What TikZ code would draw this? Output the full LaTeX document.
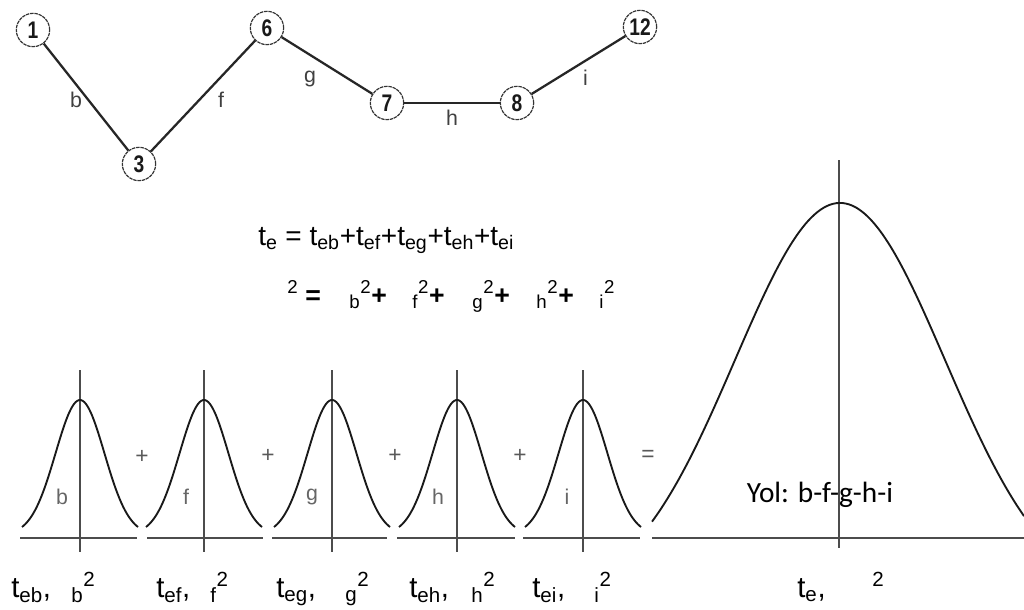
\documentclass[tikz,border=0pt]{standalone}
\usepackage{fontspec}
\setmainfont{Liberation Sans}
\newfontfamily\numfont[FakeStretch=0.8]{Liberation Sans}
\newfontfamily\calfont{Carlito}
\begin{document}
\begin{tikzpicture}[x=0.75pt,y=-0.75pt,
  vtx/.style={circle, draw=black!80, line width=0.9pt, dash pattern=on 2.6pt off 0.6pt,
    minimum size=25pt, inner sep=0pt, font=\numfont\bfseries\fontsize{18}{18}\selectfont, text=black!90},
  edgeline/.style={draw=black!85, line width=1.7pt},
  elab/.style={font=\fontsize{16}{16}\selectfont, text=black!75, inner sep=0pt},
  bell/.style={line width=1.4pt, black!90},
  axisline/.style={line width=0.8pt, black!70},
  clab/.style={font=\fontsize{16}{16}\selectfont, text=black!60, inner sep=0pt},
  op/.style={font=\fontsize{17}{17}\selectfont, text=black!65, inner sep=0pt},
  fml/.style={font=\fontsize{21}{21}\selectfont, anchor=base west, inner sep=0pt},
  fmlb/.style={font=\fontsize{20}{20}\selectfont, anchor=base west, inner sep=0pt},
  blab/.style={font=\fontsize{22}{22}\selectfont, anchor=base west, inner sep=0pt},
  yol/.style={font=\calfont\fontsize{22}{22}\selectfont, inner sep=0pt}
]
\useasboundingbox (0,0) rectangle (1024,610);
\fill[white] (0,0) rectangle (1024,610);

% network
\node[vtx] (n1) at (33,30) {1};
\node[vtx] (n3) at (139,164) {3};
\node[vtx] (n6) at (267,28) {6};
\node[vtx] (n7) at (387,103) {7};
\node[vtx] (n8) at (517,103) {8};
\node[vtx] (n12) at (640,27) {12};
\draw[edgeline] (n1) -- node[elab, midway, shift={(-10,3)}] (lb) {b} (n3);
\draw[edgeline] (n3) -- node[elab, midway, shift={(18,4)}] (lf) {f} (n6);
\draw[edgeline] (n6) -- node[elab, midway, shift={(-17,13)}] (lg) {g} (n7);
\draw[edgeline] (n7) -- node[elab, midway, shift={(0,15)}] (lh) {h} (n8);
\draw[edgeline] (n8) -- node[elab, midway, shift={(7,13)}] (li) {i} (n12);

% formulas
\node[fml] (f1) at (258,245) {t\textsubscript{e} = t\textsubscript{eb}+t\textsubscript{ef}+t\textsubscript{eg}+t\textsubscript{eh}+t\textsubscript{ei}};
\node[fmlb] (s0) at (287,304) {\textsuperscript{2}};
\node[fmlb] (seq) at (305,304) {\bfseries =};
\node[fmlb] (sb) at (349,304) {\textsubscript{b}\textsuperscript{2}\bfseries +};
\node[fmlb] (sf) at (412,304) {\textsubscript{f}\textsuperscript{2}\bfseries +};
\node[fmlb] (sg) at (472,304) {\textsubscript{g}\textsuperscript{2}\bfseries +};
\node[fmlb] (sh) at (536,304) {\textsubscript{h}\textsuperscript{2}\bfseries +};
\node[fmlb] (si) at (599,304) {\textsubscript{i}\textsuperscript{2}};

% small bell curves
\foreach \m/\a/\b/\l/\lx in {80/20/137/b/62, 204/147/263/f/186, 332/272/387/g/312, 457/397/515/h/438, 583/523/640/i/567}{
  \draw[axisline] (\a,538) -- (\b,538);
  \draw[axisline] (\m,370) -- (\m,552);
  \draw[bell] plot[domain=-58:58, samples=70, smooth] ({\m+\x},{535-135*exp(-0.5*(\x/24.4)*(\x/24.4))});
  \node[clab] at (\lx,497) {\l};
}
\node[op] (p1) at (142,457) {+};
\node[op] (p2) at (268,456) {+};
\node[op] (p3) at (395,456) {+};
\node[op] (p4) at (520,456) {+};
\node[op] (peq) at (648,456) {=};

% big bell curve
\draw[axisline] (652,538) -- (1024,538);
\draw[axisline] (839,160) -- (839,548);
\draw[bell] plot[domain=-188:184, samples=120, smooth] ({840+\x},{602-399*exp(-0.5*(\x/105)*(\x/105))});
\node[yol] (yol) at (820,495) {Yol: b-f-g-h-i};

% bottom labels
\node[blab] (l1) at (11,597) {t\textsubscript{eb},};
\node[blab] (l1s) at (71,597) {\textsubscript{b}\textsuperscript{2}};
\node[blab] (l2) at (156,597) {t\textsubscript{ef},};
\node[blab] (l2s) at (210,597) {\textsubscript{f}\textsuperscript{2}};
\node[blab] (l3) at (276,597) {t\textsubscript{eg},};
\node[blab] (l3s) at (345,597) {\textsubscript{g}\textsuperscript{2}};
\node[blab] (l4) at (409,597) {t\textsubscript{eh},};
\node[blab] (l4s) at (471,597) {\textsubscript{h}\textsuperscript{2}};
\node[blab] (l5) at (532,597) {t\textsubscript{ei},};
\node[blab] (l5s) at (594,597) {\textsubscript{i}\textsuperscript{2}};
\node[blab] (l6) at (797,597) {t\textsubscript{e},};
\node[blab] (l6s) at (872,597) {\textsuperscript{2}};
\end{tikzpicture}
\end{document}
